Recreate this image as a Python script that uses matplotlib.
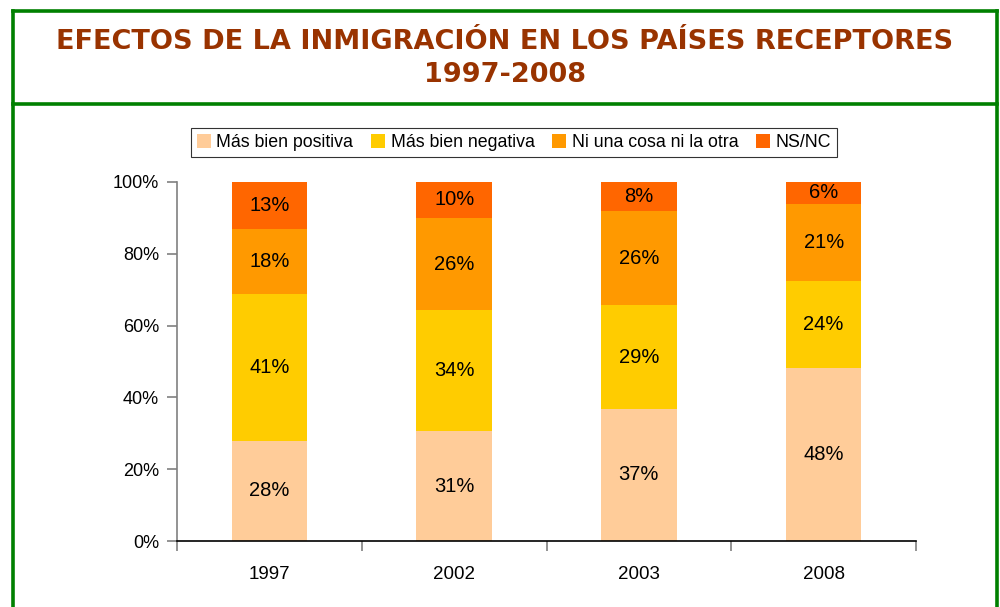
import matplotlib
matplotlib.use("Agg")
import matplotlib.pyplot as plt
from matplotlib.lines import Line2D
import numpy as np

years = ["1997", "2002", "2003", "2008"]
series_names = ["Más bien positiva", "Más bien negativa", "Ni una cosa ni la otra", "NS/NC"]
positiva = [27.9, 30.6, 36.8, 48.2]
negativa = [40.9, 33.7, 28.9, 24.2]
ninguna = [18.1, 25.7, 26.2, 21.5]
nsnc = [13.1, 10.0, 8.1, 6.1]
labels_positiva = ["28%", "31%", "37%", "48%"]
labels_negativa = ["41%", "34%", "29%", "24%"]
labels_ninguna = ["18%", "26%", "26%", "21%"]
labels_nsnc = ["13%", "10%", "8%", "6%"]
colors = ["#FFCC99", "#FFCC00", "#FF9900", "#FF6600"]

plt.rcParams['font.family'] = ['Liberation Sans', 'DejaVu Sans']

fig = plt.figure(figsize=(10, 6.07), dpi=100)
fig.patch.set_facecolor("white")

W, H = 1000, 607
def fx(x): return x / W
def fy(y): return 1 - y / H

green = "#008000"
lw = 2.6
fig.add_artist(Line2D([fx(12.5), fx(12.5)], [fy(10.5), fy(620)], color=green, lw=lw, transform=fig.transFigure))
fig.add_artist(Line2D([fx(996.5), fx(996.5)], [fy(10.5), fy(620)], color=green, lw=lw, transform=fig.transFigure))
fig.add_artist(Line2D([fx(12.5), fx(996.5)], [fy(10.5), fy(10.5)], color=green, lw=lw, transform=fig.transFigure))
fig.add_artist(Line2D([fx(12.5), fx(996.5)], [fy(103.5), fy(103.5)], color=green, lw=lw, transform=fig.transFigure))

fig.text(0.505, fy(42), "EFECTOS DE LA INMIGRACIÓN EN LOS PAÍSES RECEPTORES",
         ha="center", va="center", fontsize=19.5, fontweight="bold",
         color="#993300", family="DejaVu Sans")
fig.text(0.505, fy(75), "1997-2008",
         ha="center", va="center", fontsize=19.5, fontweight="bold",
         color="#993300", family="DejaVu Sans")

ax = fig.add_axes([fx(177), fy(541), fx(916) - fx(177), (541 - 182) / H])
x = np.arange(len(years))
width = 0.41
data = [positiva, negativa, ninguna, nsnc]
labels = [labels_positiva, labels_negativa, labels_ninguna, labels_nsnc]
bottom = np.zeros(len(years))
handles = []
for vals, lab, c, name in zip(data, labels, colors, series_names):
    vals = np.array(vals)
    bars = ax.bar(x, vals, width, bottom=bottom, color=c, label=name, zorder=2)
    handles.append(bars)
    for xi, b, v, t in zip(x, bottom, vals, lab):
        ax.text(xi, b + v / 2, t, ha="center", va="center", fontsize=14.5, color="black", zorder=3)
    bottom = bottom + vals

ax.set_xlim(-0.5, len(years) - 0.5)
ax.set_ylim(0, 100)
ax.set_yticks([0, 20, 40, 60, 80, 100])
ax.set_yticklabels(["0%", "20%", "40%", "60%", "80%", "100%"], fontsize=13)
ax.set_xticks(x)
ax.set_xticklabels(years, fontsize=13.5)
ax.set_xticks(np.arange(-0.5, len(years), 1.0), minor=True)
ax.tick_params(axis="x", which="major", length=0, pad=18)
ax.tick_params(axis="x", which="minor", length=7, color="#808080", width=1.2, direction="out")
ax.tick_params(axis="y", length=7, color="#808080", width=1.2, pad=6)
for s in ["top", "right"]:
    ax.spines[s].set_visible(False)
ax.spines["left"].set_color("#808080")
ax.spines["left"].set_linewidth(1.2)
ax.spines["bottom"].set_color("black")
ax.spines["bottom"].set_linewidth(1.2)
ax.spines["bottom"].set_zorder(4)

leg = fig.legend(handles=handles, labels=series_names, loc="center",
                 bbox_to_anchor=(fx(514), fy(142.5)), ncol=4, fontsize=12.8,
                 frameon=True, fancybox=False, edgecolor="black",
                 handlelength=0.8, handleheight=0.8, handletextpad=0.3,
                 columnspacing=1.0, borderpad=0.35)
leg.get_frame().set_linewidth(0.8)

fig.savefig("out.png", dpi=100, facecolor="white")
